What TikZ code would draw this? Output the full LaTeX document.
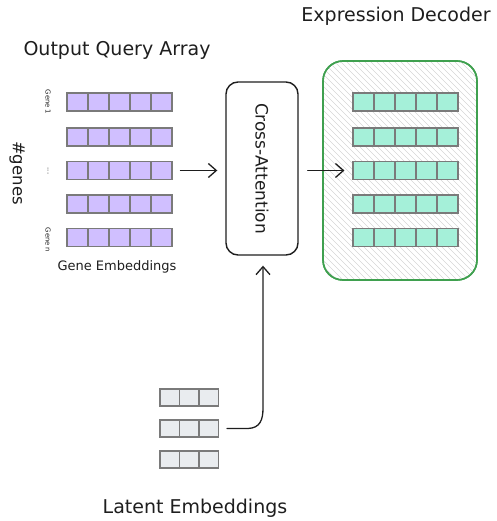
\documentclass[tikz,border=0pt]{standalone}
\usepackage{fontspec}
\setmainfont{DejaVu Sans}
\usetikzlibrary{arrows.meta}
\definecolor{qfill}{HTML}{D0BFFF}
\definecolor{tfill}{HTML}{A5F0D9}
\definecolor{gfill}{HTML}{E9ECEF}
\definecolor{cellline}{HTML}{7A7A7A}
\definecolor{decgreen}{HTML}{3FA04F}
\definecolor{hatch}{HTML}{D6D6D6}
\definecolor{ink}{HTML}{1E1E1E}
\begin{document}
\begin{tikzpicture}[x=1pt,y=-1pt,
  cell/.style={draw=cellline, line width=1.1pt, minimum width=21pt, minimum height=18pt, inner sep=0pt},
  qcell/.style={cell, fill=qfill},
  tcell/.style={cell, fill=tfill},
  lcell/.style={cell, fill=gfill, minimum width=19.5pt, minimum height=17pt},
  title/.style={font=\fontsize{19}{19}\selectfont, text=ink, inner sep=0pt},
  sub/.style={font=\fontsize{13}{13}\selectfont, text=ink, inner sep=0pt},
  tiny/.style={font=\fontsize{6.8}{6.8}\selectfont, text=ink, inner sep=0pt, rotate=-90},
  arrow/.style={draw=ink, line width=1.3pt, line cap=round, line join=round, -{Straight Barb[length=8pt,width=14pt]}},
  attbox/.style={draw=ink, line width=1.4pt, rounded corners=12pt, minimum width=72pt, minimum height=173pt, inner sep=0pt},
  decbox/.style={draw=decgreen, line width=1.6pt, rounded corners=20pt, minimum width=154pt, minimum height=219pt, inner sep=0pt}
]
\useasboundingbox (0,0) rectangle (496,521);

% Expression decoder box with hatch
\node[decbox] (dec) at (400,170.5) {};
\begin{scope}
  \clip[rounded corners=20pt] (323,61) rectangle (477,280);
  \foreach \a in {-230,-224,...,480} {
    \draw[hatch, line width=0.5pt] (\a,61) -- (\a+219,280);
  }
\end{scope}
\node[decbox] at (400,170.5) {};

% Query rows (purple) and decoder rows (teal)
\foreach \r/\yy in {1/102,2/137,3/170.5,4/204,5/237.5} {
  \foreach \c in {1,...,5} {
    \node[qcell] (p-\r-\c) at ({67+10.5+21*(\c-1)},\yy) {};
    \node[tcell] (t-\r-\c) at ({353+10.5+21*(\c-1)},\yy) {};
  }
}

% Latent rows (gray)
\foreach \r/\yy in {1/397.5,2/428.5,3/459.5} {
  \foreach \c in {1,2,3} {
    \node[lcell] (l-\r-\c) at ({160+9.75+19.5*(\c-1)},\yy) {};
  }
}

% Cross-attention
\node[attbox] (ca) at (262,168.5) {};
\node[title, rotate=-90, font=\fontsize{17}{17}\selectfont] (catext) at (ca.center) {Cross-Attention};

% Texts
\node[title] (qtitle) at (117,50) {Output Query Array};
\node[title] (dtitle) at (396,16) {Expression Decoder};
\node[sub] (gemb) at (117,267) {Gene Embeddings};
\node[title] (ltitle) at (195,508) {Latent Embeddings};
\node[title, rotate=-90, font=\fontsize{16.5}{16.5}\selectfont] (genes) at (17,173) {\#genes};
\node[tiny] (g1) at (48,102) {Gene 1};
\node[tiny] (gdots) at (48,171) {...};
\node[tiny] (gn) at (48,240) {Gene n};

% Arrows
\draw[arrow, shorten <=8pt, shorten >=8pt] (p-3-5.east) -- (p-3-5.east -| ca.west);
\draw[arrow, shorten <=9pt, shorten >=8pt] (ca.east |- t-3-1.west) -- (t-3-1.west);
\coordinate (bend) at (263,408);
\draw[arrow, shorten >=10pt] ([xshift=8pt]l-2-3.east) -- (248,428.5)
   .. controls (260,428) and (263,420) .. (bend) -- (bend |- ca.south);
\end{tikzpicture}
\end{document}
